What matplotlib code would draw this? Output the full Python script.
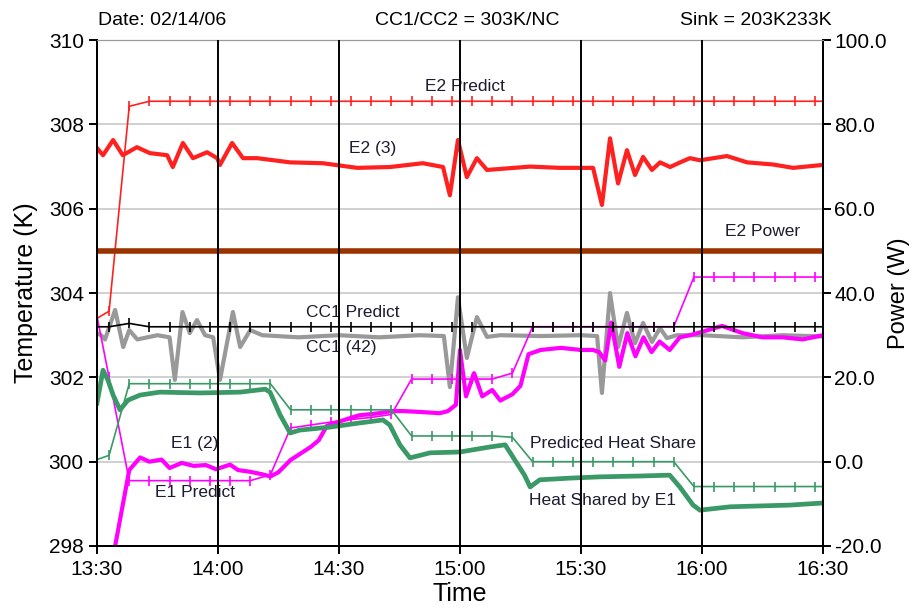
import matplotlib
matplotlib.use("Agg")
import matplotlib.pyplot as plt

plt.rcParams['font.family'] = ['Liberation Sans', 'DejaVu Sans']

# minutes after 13:30
time_ticks = [0, 30, 60, 90, 120, 150, 180]
time_labels = ["13:30", "14:00", "14:30", "15:00", "15:30", "16:00", "16:30"]

# predicted curves, sampled every 5 min
pred_t = [0, 3, 8, 13, 18, 23, 28, 33, 38, 43, 48, 53, 58, 63, 68, 73, 78, 83, 88,
          93, 98, 103, 108, 113, 118, 123, 128, 133, 138, 143, 148, 153, 158, 163,
          168, 173, 178, 180]
e2_predict = [303.4, 303.57, 308.43] + [308.55] * 35
cc1_predict = [303.2, 303.2, 303.28] + [303.2] * 35
e1_predict = ([303.45, 302.0, 299.55] + [299.55] * 6 + [299.69]
              + [300.8, 300.87, 300.94, 301.0, 301.05, 301.12]
              + [301.96] + [301.96] * 4 + [302.1] + [303.2] + [303.2] * 7
              + [304.38] + [304.38] * 7)
heat_predict = ([0.5, 1.5, 18.5] + [18.5] * 7 + [12.3] + [12.3] * 5 + [6.1] + [6.1] * 4
                + [5.8] + [0.0] + [0.0] * 7 + [-5.9] + [-5.9] * 7)

# E2 (3) measured temperature
e2_t = [0, 1.5, 4.0, 6.4, 9.9, 13.1, 17.4, 18.8, 21.3, 23.8, 27.3, 29.8, 30.5, 33.5,
        36.2, 39.7, 47.9, 56.0, 64.5, 72.7, 80.8, 85.8, 87.5, 89.5, 91.7, 94.2, 96.7,
        107.4, 114.8, 123.0, 125.2, 127.2, 129.2, 131.4, 133.4, 135.4, 137.6, 139.6,
        142.1, 144.6, 147.0, 149.5, 156.2, 161.2, 167.6, 172.6, 180]
e2_temp = [307.44, 307.27, 307.63, 307.27, 307.46, 307.32, 307.27, 306.99, 307.56,
           307.2, 307.34, 307.2, 307.04, 307.56, 307.2, 307.2, 307.1, 307.08, 306.97,
           306.99, 307.08, 306.99, 306.32, 307.63, 306.75, 307.2, 306.92, 307.0,
           306.97, 306.97, 306.09, 307.67, 306.6, 307.39, 306.8, 307.23, 306.92,
           307.1, 306.99, 307.1, 307.2, 307.15, 307.25, 307.1, 307.05, 306.97, 307.04]

# CC1 (42) measured temperature
cc1_t = [0, 1, 2, 4.5, 6.5, 8, 10, 15, 18, 19.3, 21.2, 23, 24.8, 26.8, 28.8, 30.5,
         33.7, 35.5, 38, 41, 50, 60, 70, 80, 86, 87.5, 89.5, 91.7, 94.2, 96.7, 100,
         110, 120, 124, 125.2, 127.2, 129.2, 131.4, 133.4, 135.4, 137.6, 139.6, 141.3,
         143.8, 150, 160, 170, 180]
cc1_temp = [303.05, 303.0, 302.9, 303.6, 302.72, 303.12, 302.9, 303.0, 302.95, 301.94,
            303.55, 303.05, 303.36, 303.0, 302.95, 301.94, 303.55, 302.72, 303.12,
            303.0, 302.95, 303.0, 302.95, 303.0, 302.98, 301.77, 303.9, 302.46, 303.43,
            302.96, 303.0, 302.98, 303.0, 302.98, 301.63, 304.0, 302.72, 303.53, 302.81,
            303.29, 302.84, 303.17, 302.93, 303.0, 303.0, 302.95, 303.0, 302.97]

# E1 (2) measured temperature
e1_t = [0, 3.5, 4.5, 8, 10.7, 13, 16, 18, 21, 24, 27, 29.5, 33, 35, 38, 41, 43, 45,
        48, 53, 55, 57, 60, 65, 70, 73, 76, 80, 85, 87, 89, 90, 91.5, 93.5, 95.5, 98,
        100, 103, 105, 107, 110, 115, 120, 123, 124.5, 126, 127.5, 129.5, 131.5,
        133.5, 135.5, 137.5, 139.5, 142, 144.5, 147, 150, 155, 160, 165, 170, 175, 180]
e1_temp = [297.9, 297.9, 298.0, 299.8, 300.1, 300.0, 300.05, 299.85, 299.97, 299.9,
           299.92, 299.82, 299.93, 299.8, 299.76, 299.7, 299.65, 299.75, 300.04,
           300.35, 300.51, 300.85, 300.95, 301.1, 301.15, 301.2, 301.2, 301.18,
           301.15, 301.2, 301.35, 302.65, 301.55, 302.1, 301.55, 301.7, 301.45, 301.6,
           301.8, 302.55, 302.65, 302.7, 302.65, 302.65, 302.6, 302.4, 303.3, 302.25,
           303.05, 302.5, 302.95, 302.6, 302.85, 302.65, 302.95, 303.0, 303.08,
           303.22, 303.05, 302.95, 302.95, 302.9, 303.0]

# Heat Shared by E1 (W)
heat_t = [0, 1.5, 2.7, 4, 5.7, 7.7, 10.7, 15.6, 25.5, 35.5, 41.7, 42.9, 45.4, 47.9,
          50.3, 57.8, 65.2, 70.9, 72.6, 75.1, 77.6, 82.6, 90, 97.5, 101.2, 103.6, 106,
          107.4, 109.8, 117.3, 124.7, 134.6, 142, 144.5, 147.8, 149.5, 157, 164.4,
          171.8, 180]
heat_w = [13.9, 21.7, 19.4, 15.8, 12.3, 14.6, 15.8, 16.5, 16.3, 16.5, 17.2, 16.5, 11.1,
          6.8, 7.5, 8.2, 9.2, 9.9, 8.7, 4.0, 0.9, 2.1, 2.3, 3.5, 4.0, 0.4, -3.2, -6.0,
          -4.3, -3.9, -3.6, -3.4, -3.2, -6.0, -10.3, -11.5, -10.7, -10.5, -10.3, -9.8]

# E2 heater power (W)
e2_power = [50.0, 50.0]
power_t = [0, 180]

RED = "#ff2020"
MAGENTA = "#ff00ff"
GREEN = "#3a9966"
GRAY = "#999999"
BROWN = "#993300"
TXT = "#1c1c30"


def label(ax, t, v, s):
    ax.text(t, v, s, fontsize=12.5, color=TXT, ha="center", va="center", zorder=6)


fig = plt.figure(figsize=(9.14, 6.08), dpi=100)
ax = fig.add_axes([0.1061, 0.102, 0.7943, 0.832])
ax2 = ax.twinx()

# horizontal grid on temperature axis
for y in [300, 302, 304, 306, 308]:
    ax.axhline(y, color="#c8c8c8", lw=1.2, zorder=0)

ax.plot(pred_t, e2_predict, color=RED, lw=1.2, marker="|", ms=7, mew=1.2,
        markevery=slice(1, -1), zorder=2)
ax.plot(e2_t, e2_temp, color=RED, lw=3.0, zorder=2)
ax.plot(cc1_t, cc1_temp, color=GRAY, lw=3.0, zorder=2)
ax.plot(e1_t, e1_temp, color=MAGENTA, lw=3.0, zorder=2)
ax.plot(pred_t, e1_predict, color=MAGENTA, lw=1.2, marker="|", ms=7, mew=1.2,
        markevery=slice(0, -1), zorder=2)
ax.plot(pred_t, cc1_predict, color="black", lw=1.2, marker="|", ms=7, mew=1.2,
        markevery=slice(1, -1), zorder=2)

ax2.plot(power_t, e2_power, color=BROWN, lw=4, zorder=2)
ax2.plot(heat_t, heat_w, color=GREEN, lw=3.4, zorder=2)
ax2.plot(pred_t, heat_predict, color=GREEN, lw=1.2, marker="|", ms=7, mew=1.2,
         markevery=slice(1, -1), zorder=2)

# vertical black grid lines on top
for t in time_ticks[1:-1]:
    ax2.axvline(t, color="black", lw=1.4, zorder=5)

ax.set_xlim(0, 180)
ax.set_ylim(298, 310)
ax2.set_ylim(-20, 100)
ax.set_xticks(time_ticks)
ax.set_xticklabels(time_labels)
ax.set_yticks([298, 300, 302, 304, 306, 308, 310])
ax2.set_yticks([-20, 0, 20, 40, 60, 80, 100])
ax2.set_yticklabels(["-20.0", "0.0", "20.0", "40.0", "60.0", "80.0", "100.0"])

for a in (ax, ax2):
    a.tick_params(direction="out", length=6, width=1.4, labelsize=15, colors="black")
    a.spines["top"].set_color("#999999")
    for s in ("left", "right", "bottom"):
        a.spines[s].set_linewidth(1.4)
ax.tick_params(axis="x", pad=4)
ax2.tick_params(axis="y", pad=2)

ax.set_xlabel("Time", fontsize=18, labelpad=2)
ax.set_ylabel("Temperature (K)", fontsize=18, labelpad=8)
ax2.set_ylabel("Power (W)", fontsize=17, labelpad=1)

label(ax, 91.2, 308.91, "E2 Predict")
label(ax, 68.4, 307.44, "E2 (3)")
label(ax, 165.1, 305.45, "E2 Power")
label(ax, 63.5, 303.55, "CC1 Predict")
label(ax, 60.5, 302.70, "CC1 (42)")
label(ax, 24.3, 300.44, "E1 (2)")
label(ax, 24.3, 299.26, "E1 Predict")
label(ax, 127.9, 300.44, "Predicted Heat Share")
label(ax, 125.4, 299.09, "Heat Shared by E1")

fig.text(0.107, 0.967, "Date: 02/14/06", fontsize=14, ha="left", va="center")
fig.text(0.511, 0.967, "CC1/CC2 = 303K/NC", fontsize=14, ha="center", va="center")
fig.text(0.910, 0.967, "Sink = 203K233K", fontsize=14, ha="right", va="center")

fig.savefig("out.png", dpi=100)
